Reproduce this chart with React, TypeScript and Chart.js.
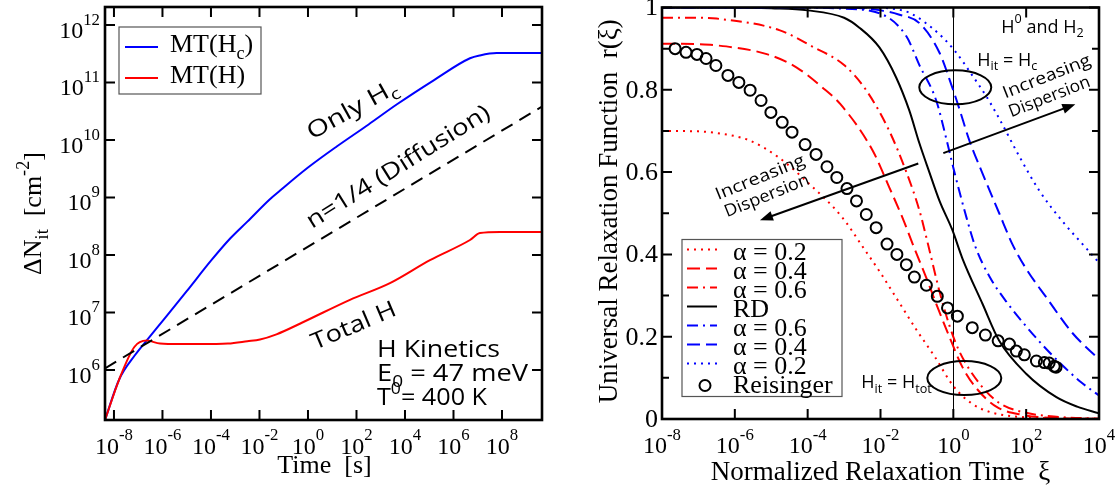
import { useEffect, useRef } from 'react';
import { Chart, registerables } from 'chart.js';

Chart.register(...registerables);

const SERIF = '"Liberation Serif", "Times New Roman", serif';
const SANS = '"Open Sans", "DejaVu Sans", sans-serif';
const BLUE = '#0000ff';
const RED = '#ff0000';
const DOT = [2, 5];
const DASH = [13, 6];
const DASHDOT = [11, 5, 2, 5];

// ---- H kinetics panel: time (s) vs. interface-trap density (cm^-2) ----
const hcTime = [4.27e-9, 1.62e-8, 7.41e-8, 2.29e-7, 1e-6, 1e-5, 1e-4, 6.31e-4, 3.16e-3, 2.69e-2, 7.08e-2, 1, 15.8, 316, 4.68e3, 1.58e5, 4.79e6, 1.23e7, 6.03e7, 4.47e9];
const hcDensity = [1.35e5, 6.76e5, 1.82e6, 3.31e6, 7.08e6, 2.34e7, 7.94e7, 1.95e8, 3.8e8, 9.33e8, 1.32e9, 3.31e9, 7.76e9, 1.86e10, 4.17e10, 1.1e11, 2.63e11, 2.95e11, 3.24e11, 3.24e11];
const hTime = [4.27e-9, 1.62e-8, 6.92e-8, 2.24e-7, 7.94e-7, 5.01e-6, 3.55e-5, 5.01e-4, 3.16e-3, 1.05e-2, 5.01e-2, 0.617, 53.7, 2.4e3, 1.07e5, 4.79e6, 1.23e7, 8.32e7, 4.47e9];
const hDensity = [1.35e5, 6.76e5, 2.51e6, 3.24e6, 2.88e6, 2.82e6, 2.82e6, 2.88e6, 3.16e6, 3.39e6, 4.17e6, 6.76e6, 1.66e7, 3.24e7, 8.13e7, 1.82e8, 2.4e8, 2.51e8, 2.51e8];
const diffusionTime = [4.27e-9, 4.47e9];
const diffusionDensity = [1.07e6, 3.8e10];

const timeTicks = [1e-8, 1e-6, 1e-4, 1e-2, 1, 1e2, 1e4, 1e6, 1e8];
const timeTickExp = ['-8', '-6', '-4', '-2', '0', '2', '4', '6', '8'];
const densityTicks = [1e6, 1e7, 1e8, 1e9, 1e10, 1e11, 1e12];
const densityTickExp = ['6', '7', '8', '9', '10', '11', '12'];

// ---- Universal relaxation panel: normalized time xi vs. r(xi) ----
const xiRedDot = [1e-8, 1e-7, 3.16e-7, 2.51e-6, 1.58e-5, 1e-4, 8.91e-4, 3.16e-3, 1e-2, 3.16e-2, 0.1, 0.316, 1, 3.16, 10, 31.6, 100, 1000, 1e4];
const rRedDot = [0.7, 0.699, 0.695, 0.677, 0.636, 0.575, 0.49, 0.42, 0.355, 0.285, 0.215, 0.15, 0.08, 0.038, 0.017, 0.008, 0.004, 0.001, 0.0002];
const xiRedDash = [1e-8, 1e-7, 2.51e-7, 7.94e-6, 5.01e-5, 2.51e-4, 7.94e-4, 6.03e-3, 1.74e-2, 3.98e-2, 8.51e-2, 0.178, 0.339, 0.776, 1.78, 4.27, 15.1, 79.4, 1000, 1e4];
const rRedDash = [0.912, 0.911, 0.909, 0.886, 0.854, 0.806, 0.765, 0.653, 0.563, 0.49, 0.415, 0.345, 0.28, 0.2, 0.126, 0.075, 0.03, 0.01, 0.002, 0.0005];
const xiRedDashDot = [1e-8, 1e-7, 3.16e-7, 1.66e-5, 1.35e-4, 1e-3, 3.98e-3, 1.74e-2, 5.13e-2, 0.117, 0.195, 0.417, 0.794, 1.45, 5.13, 18.2, 100, 794, 1e4];
const rRedDashDot = [0.975, 0.975, 0.973, 0.945, 0.905, 0.86, 0.8, 0.7, 0.6, 0.507, 0.43, 0.31, 0.225, 0.165, 0.087, 0.039, 0.015, 0.005, 0.001];
const xiRD = [1e-8, 1e-6, 1e-5, 1e-4, 1e-3, 2.63e-3, 9.33e-3, 2.69e-2, 6.17e-2, 0.117, 0.219, 0.417, 0.933, 1.78, 6.31, 18.2, 100, 676, 2512, 1e4];
const rRD = [1, 1, 0.998, 0.993, 0.975, 0.951, 0.903, 0.83, 0.75, 0.67, 0.6, 0.53, 0.46, 0.39, 0.28, 0.19, 0.11, 0.053, 0.03, 0.014];
const xiBlueDashDot = [1e-8, 1e-4, 1e-3, 1e-2, 5.13e-2, 0.117, 0.339, 0.646, 1.07, 2.29, 3.98, 10, 31.6, 100, 316, 1000, 3162, 1e4];
const rBlueDashDot = [1, 1, 0.997, 0.985, 0.93, 0.86, 0.774, 0.68, 0.6, 0.49, 0.42, 0.345, 0.28, 0.225, 0.175, 0.13, 0.09, 0.057];
const xiBlueDash = [1e-8, 1e-3, 1e-2, 3.16e-2, 0.117, 0.417, 0.933, 1.45, 2.75, 6.31, 18.2, 41.7, 100, 355, 1862, 1e4];
const rBlueDash = [1, 1, 0.993, 0.983, 0.962, 0.89, 0.806, 0.755, 0.677, 0.597, 0.5, 0.425, 0.365, 0.296, 0.209, 0.145];
const xiBlueDot = [1e-8, 3.16e-3, 3.98e-2, 0.263, 1.07, 3.31, 7.94, 18.2, 63.1, 229, 1000, 4467, 1e4];
const rBlueDot = [1, 1, 0.993, 0.95, 0.896, 0.835, 0.785, 0.73, 0.64, 0.555, 0.48, 0.415, 0.38];
const xiReisinger = [2.29e-8, 4.57e-8, 9.12e-8, 1.62e-7, 3.02e-7, 6.46e-7, 1.29e-6, 2.63e-6, 5.25e-6, 9.77e-6, 2e-5, 3.72e-5, 8.51e-5, 1.7e-4, 3.39e-4, 6.31e-4, 1.2e-3, 2.19e-3, 4.07e-3, 7.59e-3, 1.51e-2, 2.82e-2, 5.13e-2, 8.51e-2, 0.182, 0.363, 0.692, 1.29, 3.31, 7.59, 17, 34.7, 53.7, 89.1, 191, 316, 427, 589, 661];
const rReisinger = [0.9, 0.891, 0.886, 0.876, 0.859, 0.835, 0.818, 0.799, 0.774, 0.745, 0.721, 0.697, 0.667, 0.643, 0.613, 0.587, 0.56, 0.53, 0.497, 0.465, 0.425, 0.4, 0.375, 0.345, 0.325, 0.298, 0.27, 0.25, 0.222, 0.204, 0.19, 0.182, 0.165, 0.156, 0.141, 0.137, 0.136, 0.128, 0.126];

const xiTicks = [1e-8, 1e-6, 1e-4, 1e-2, 1, 1e2, 1e4];
const xiTickExp = ['-8', '-6', '-4', '-2', '0', '2', '4'];
const rMajorTicks = [0, 0.2, 0.4, 0.6, 0.8, 1];
const rTickLabels = ['0', '0.2', '0.4', '0.6', '0.8', '1'];
const rMinorTicks = [0.1, 0.3, 0.5, 0.7, 0.9];

type Seg = { t: string; k?: 'sup' | 'sub' };
type RichOpts = {
  size: number;
  family: string;
  align?: 'left' | 'center' | 'right';
  angle?: number;
  width?: number;
  supRaise?: number;
};

function segSize(size: number, k?: string) {
  return k ? size * 0.7 : size;
}

function measureRich(ctx: CanvasRenderingContext2D, segs: Seg[], size: number, family: string) {
  let w = 0;
  for (const s of segs) {
    ctx.font = `${segSize(size, s.k)}px ${family}`;
    w += ctx.measureText(s.t).width;
  }
  return w;
}

// Draws text with super/subscripts; optional rotation and horizontal fit to a width
function drawRich(ctx: CanvasRenderingContext2D, segs: Seg[], x: number, y: number, o: RichOpts) {
  ctx.save();
  ctx.translate(x, y);
  if (o.angle) ctx.rotate((o.angle * Math.PI) / 180);
  const w = measureRich(ctx, segs, o.size, o.family);
  if (o.width) ctx.scale(o.width / w, 1);
  let cx = o.align === 'center' ? -w / 2 : o.align === 'right' ? -w : 0;
  ctx.fillStyle = '#000';
  ctx.textAlign = 'left';
  ctx.textBaseline = 'alphabetic';
  for (const s of segs) {
    ctx.font = `${segSize(o.size, s.k)}px ${o.family}`;
    const dy = s.k === 'sup' ? -o.size * (o.supRaise ?? 0.45) : s.k === 'sub' ? o.size * 0.25 : 0;
    ctx.fillText(s.t, cx, dy);
    cx += ctx.measureText(s.t).width;
  }
  ctx.restore();
}

function drawArrow(ctx: CanvasRenderingContext2D, x1: number, y1: number, x2: number, y2: number) {
  const head = 13;
  const half = 5;
  const ang = Math.atan2(y2 - y1, x2 - x1);
  const c = Math.cos(ang);
  const s = Math.sin(ang);
  ctx.beginPath();
  ctx.moveTo(x1, y1);
  ctx.lineTo(x2 - c * head * 0.8, y2 - s * head * 0.8);
  ctx.stroke();
  ctx.beginPath();
  ctx.moveTo(x2, y2);
  ctx.lineTo(x2 - head * c + half * s, y2 - head * s - half * c);
  ctx.lineTo(x2 - head * c - half * s, y2 - head * s + half * c);
  ctx.closePath();
  ctx.fill();
}

function series(xs: number[], ys: number[], color: string, dash: number[], order: number, width = 2) {
  return {
    data: xs.map((x, i) => ({ x, y: ys[i] })),
    showLine: true,
    borderColor: color,
    backgroundColor: color,
    borderWidth: width,
    borderDash: dash,
    pointRadius: 0,
    pointHoverRadius: 0,
    cubicInterpolationMode: 'monotone' as const,
    fill: false,
    order,
  };
}

function powerLabel(exp: string): Seg[] {
  return [{ t: '10' }, { t: exp, k: 'sup' }];
}

const kineticsDecor = {
  id: 'kineticsDecor',
  afterDatasetsDraw(chart: any) {
    const { ctx, chartArea: a, scales } = chart;
    const xs = scales.x;
    const ys = scales.y;
    ctx.save();
    ctx.strokeStyle = '#000';
    ctx.lineWidth = 2;
    ctx.setLineDash([]);
    ctx.beginPath();
    timeTicks.forEach((v) => {
      const px = xs.getPixelForValue(v);
      ctx.moveTo(px, a.bottom);
      ctx.lineTo(px, a.bottom - 10);
      ctx.moveTo(px, a.top);
      ctx.lineTo(px, a.top + 10);
    });
    densityTicks.forEach((v) => {
      const py = ys.getPixelForValue(v);
      ctx.moveTo(a.left, py);
      ctx.lineTo(a.left + 10, py);
      ctx.moveTo(a.right, py);
      ctx.lineTo(a.right - 10, py);
    });
    ctx.stroke();
    ctx.lineWidth = 2.6;
    ctx.strokeRect(a.left, a.top, a.right - a.left, a.bottom - a.top);

    timeTicks.forEach((v, i) => {
      drawRich(ctx, powerLabel(timeTickExp[i]), xs.getPixelForValue(v), a.bottom + 33.5, {
        size: 24, family: SERIF, align: 'center', supRaise: 0.55,
      });
    });
    densityTicks.forEach((v, i) => {
      drawRich(ctx, powerLabel(densityTickExp[i]), a.left - 5, ys.getPixelForValue(v) + 13, {
        size: 24, family: SERIF, align: 'right', supRaise: 0.55,
      });
    });

    // axis titles
    drawRich(ctx, [{ t: 'Time  [s]' }], (a.left + a.right) / 2 + 1, 473, { size: 26, family: SERIF, align: 'center' });
    drawRich(ctx, [{ t: 'ΔN' }, { t: 'it', k: 'sub' }, { t: '  [cm' }, { t: '-2', k: 'sup' }, { t: ']' }], 41, (a.top + a.bottom) / 2, {
      size: 26, family: SERIF, align: 'center', angle: -90,
    });

    // legend
    const lx = a.left + 14;
    const ly = a.top + 20;
    ctx.fillStyle = '#fff';
    ctx.fillRect(lx, ly, 142, 67);
    ctx.strokeStyle = '#555';
    ctx.lineWidth = 1.2;
    ctx.strokeRect(lx, ly, 142, 67);
    ctx.lineWidth = 2;
    ctx.strokeStyle = BLUE;
    ctx.beginPath();
    ctx.moveTo(a.left + 20, a.top + 40);
    ctx.lineTo(a.left + 53, a.top + 40);
    ctx.stroke();
    ctx.strokeStyle = RED;
    ctx.beginPath();
    ctx.moveTo(a.left + 20, a.top + 71);
    ctx.lineTo(a.left + 53, a.top + 71);
    ctx.stroke();
    drawRich(ctx, [{ t: 'MT(H' }, { t: 'c', k: 'sub' }, { t: ')' }], a.left + 65, a.top + 45, { size: 26, family: SERIF });
    drawRich(ctx, [{ t: 'MT(H)' }], a.left + 65, a.top + 76, { size: 26, family: SERIF });

    // curve annotations
    drawRich(ctx, [{ t: 'Only H' }, { t: 'c', k: 'sub' }], xs.getPixelForValue(1.46), ys.getPixelForValue(1.0e10), {
      size: 23, family: SANS, angle: -29, width: 100,
    });
    drawRich(ctx, [{ t: 'n=1/4 (Diffusion)' }], xs.getPixelForValue(1.46), ys.getPixelForValue(2.83e8), {
      size: 23, family: SANS, angle: -32, width: 212,
    });
    drawRich(ctx, [{ t: 'Total H' }], xs.getPixelForValue(1.95), ys.getPixelForValue(2.23e6), {
      size: 23, family: SANS, angle: -23, width: 90,
    });
    const kx = xs.getPixelForValue(700);
    const ky = ys.getPixelForValue(1.68e6);
    drawRich(ctx, [{ t: 'H Kinetics' }], kx, ky, { size: 24, family: SANS, width: 123 });
    drawRich(ctx, [{ t: 'E' }, { t: '0', k: 'sub' }, { t: ' = 47 meV' }], kx, ky + 23.5, { size: 24, family: SANS, width: 151 });
    drawRich(ctx, [{ t: 'T' }, { t: '0', k: 'sup' }, { t: '= 400 K' }], kx, ky + 48, { size: 24, family: SANS, width: 110 });
    ctx.restore();
  },
};

type LegendEntry = { label: Seg[]; color: string; dash: number[] | null };
const relaxLegend: LegendEntry[] = [
  { label: [{ t: 'α = 0.2' }], color: RED, dash: DOT },
  { label: [{ t: 'α = 0.4' }], color: RED, dash: DASH },
  { label: [{ t: 'α = 0.6' }], color: RED, dash: DASHDOT },
  { label: [{ t: 'RD' }], color: '#000', dash: [] },
  { label: [{ t: 'α = 0.6' }], color: BLUE, dash: DASHDOT },
  { label: [{ t: 'α = 0.4' }], color: BLUE, dash: DASH },
  { label: [{ t: 'α = 0.2' }], color: BLUE, dash: DOT },
  { label: [{ t: 'Reisinger' }], color: '#000', dash: null },
];

const relaxDecor = {
  id: 'relaxDecor',
  beforeDatasetsDraw(chart: any) {
    const { ctx, chartArea: a, scales } = chart;
    const px = scales.x.getPixelForValue(1);
    ctx.save();
    ctx.strokeStyle = '#000';
    ctx.lineWidth = 1;
    ctx.beginPath();
    ctx.moveTo(Math.round(px) + 0.5, a.top);
    ctx.lineTo(Math.round(px) + 0.5, a.bottom);
    ctx.stroke();
    ctx.restore();
  },
  afterDatasetsDraw(chart: any) {
    const { ctx, chartArea: a, scales } = chart;
    const xs = scales.x;
    const ys = scales.y;
    ctx.save();
    ctx.strokeStyle = '#000';
    ctx.fillStyle = '#000';
    ctx.setLineDash([]);
    ctx.lineWidth = 2;
    ctx.beginPath();
    xiTicks.forEach((v) => {
      const px = xs.getPixelForValue(v);
      ctx.moveTo(px, a.bottom);
      ctx.lineTo(px, a.bottom - 10);
      ctx.moveTo(px, a.top);
      ctx.lineTo(px, a.top + 10);
    });
    rMajorTicks.forEach((v) => {
      const py = ys.getPixelForValue(v);
      ctx.moveTo(a.left, py);
      ctx.lineTo(a.left + 10, py);
      ctx.moveTo(a.right, py);
      ctx.lineTo(a.right - 10, py);
    });
    rMinorTicks.forEach((v) => {
      const py = ys.getPixelForValue(v);
      ctx.moveTo(a.left, py);
      ctx.lineTo(a.left + 7, py);
      ctx.moveTo(a.right, py);
      ctx.lineTo(a.right - 7, py);
    });
    ctx.stroke();
    ctx.lineWidth = 2.6;
    ctx.strokeRect(a.left, a.top, a.right - a.left, a.bottom - a.top);

    xiTicks.forEach((v, i) => {
      drawRich(ctx, powerLabel(xiTickExp[i]), xs.getPixelForValue(v), a.bottom + 34, {
        size: 24, family: SERIF, align: 'center', supRaise: 0.55,
      });
    });
    ctx.font = `26px ${SERIF}`;
    ctx.textAlign = 'right';
    ctx.textBaseline = 'middle';
    rMajorTicks.forEach((v, i) => {
      ctx.fillText(rTickLabels[i], a.left - 4, ys.getPixelForValue(v) + 1);
    });

    drawRich(ctx, [{ t: 'Normalized Relaxation Time  ξ' }], (a.left + a.right) / 2, 480, { size: 27, family: SERIF, align: 'center' });
    drawRich(ctx, [{ t: 'Universal Relaxation Function  r(ξ)' }], 57, (a.top + a.bottom) / 2 - 2, {
      size: 27, family: SERIF, align: 'center', angle: -90,
    });

    // legend
    const bx = a.left + 20;
    const by = a.top + 232;
    ctx.fillStyle = '#fff';
    ctx.fillRect(bx, by, 160, 157);
    ctx.strokeStyle = '#555';
    ctx.lineWidth = 1.2;
    ctx.strokeRect(bx, by, 160, 157);
    relaxLegend.forEach((e, i) => {
      const base = a.top + 252 + i * 19;
      if (e.dash) {
        ctx.strokeStyle = e.color;
        ctx.lineWidth = 2;
        ctx.setLineDash(e.dash);
        ctx.beginPath();
        ctx.moveTo(a.left + 25, base - 10);
        ctx.lineTo(a.left + 55, base - 10);
        ctx.stroke();
        ctx.setLineDash([]);
      } else {
        ctx.strokeStyle = '#000';
        ctx.lineWidth = 2;
        ctx.beginPath();
        ctx.arc(a.left + 43, base - 7, 5.5, 0, Math.PI * 2);
        ctx.stroke();
      }
      drawRich(ctx, e.label, a.left + 71, base, { size: 26, family: SERIF });
    });

    // annotations
    ctx.strokeStyle = '#000';
    ctx.fillStyle = '#000';
    ctx.lineWidth = 2;
    drawRich(ctx, [{ t: 'H' }, { t: '0', k: 'sup' }, { t: ' and H' }, { t: '2', k: 'sub' }], xs.getPixelForValue(20.8), ys.getPixelForValue(0.939), {
      size: 18, family: SANS, supRaise: 0.55,
    });
    drawRich(ctx, [{ t: 'H' }, { t: 'it', k: 'sub' }, { t: ' = H' }, { t: 'c', k: 'sub' }], xs.getPixelForValue(4.56), ys.getPixelForValue(0.859), {
      size: 18, family: SANS,
    });
    drawRich(ctx, [{ t: 'H' }, { t: 'it', k: 'sub' }, { t: ' = H' }, { t: 'tot', k: 'sub' }], xs.getPixelForValue(2.98e-3), ys.getPixelForValue(0.075), {
      size: 18, family: SANS,
    });
    ctx.beginPath();
    ctx.ellipse(xs.getPixelForValue(1.13), ys.getPixelForValue(0.806), 36, 17, 0, 0, Math.PI * 2);
    ctx.stroke();
    ctx.beginPath();
    ctx.ellipse(xs.getPixelForValue(2.0), ys.getPixelForValue(0.0995), 37, 17, 0, 0, Math.PI * 2);
    ctx.stroke();

    drawArrow(ctx, xs.getPixelForValue(0.531), ys.getPixelForValue(0.646), xs.getPixelForValue(2239), ys.getPixelForValue(0.765));
    drawArrow(ctx, xs.getPixelForValue(0.109), ys.getPixelForValue(0.621), xs.getPixelForValue(4.9e-6), ys.getPixelForValue(0.483));

    drawRich(ctx, [{ t: 'Increasing' }], xs.getPixelForValue(26.8), ys.getPixelForValue(0.779), { size: 17, family: SANS, angle: -21.5, width: 93 });
    drawRich(ctx, [{ t: 'Dispersion' }], xs.getPixelForValue(39.1), ys.getPixelForValue(0.733), { size: 17, family: SANS, angle: -21.5, width: 86 });
    drawRich(ctx, [{ t: 'Increasing' }], xs.getPixelForValue(3.45e-7), ys.getPixelForValue(0.532), { size: 17, family: SANS, angle: -22, width: 95 });
    drawRich(ctx, [{ t: 'Dispersion' }], xs.getPixelForValue(6.1e-7), ys.getPixelForValue(0.49), { size: 17, family: SANS, angle: -22, width: 90 });
    ctx.restore();
  },
};

function kineticsConfig(): any {
  return {
    type: 'scatter',
    data: {
      datasets: [
        series(hcTime, hcDensity, BLUE, [], 2),
        series(hTime, hDensity, RED, [], 1),
        { ...series(diffusionTime, diffusionDensity, '#000', [13, 8], 0), cubicInterpolationMode: 'default', tension: 0 },
      ],
    },
    options: {
      animation: false,
      responsive: false,
      maintainAspectRatio: false,
      events: [],
      layout: { padding: { left: 105, top: 7, right: 18, bottom: 71 } },
      plugins: { legend: { display: false }, tooltip: { enabled: false } },
      scales: {
        x: { type: 'logarithmic', min: 4.27e-9, max: 4.46e9, display: false, bounds: 'data' },
        y: { type: 'logarithmic', min: 1.35e5, max: 2.05e12, display: false, bounds: 'data' },
      },
    },
    plugins: [kineticsDecor],
  };
}

function relaxConfig(): any {
  return {
    type: 'scatter',
    data: {
      datasets: [
        series(xiRedDot, rRedDot, RED, DOT, 7),
        series(xiRedDash, rRedDash, RED, DASH, 6),
        series(xiRedDashDot, rRedDashDot, RED, DASHDOT, 5),
        series(xiRD, rRD, '#000', [], 4),
        series(xiBlueDashDot, rBlueDashDot, BLUE, DASHDOT, 3),
        series(xiBlueDash, rBlueDash, BLUE, DASH, 2),
        series(xiBlueDot, rBlueDot, BLUE, DOT, 1),
        {
          data: xiReisinger.map((x, i) => ({ x, y: rReisinger[i] })),
          showLine: false,
          pointStyle: 'circle',
          pointRadius: 5.5,
          pointHoverRadius: 5.5,
          borderWidth: 2,
          borderColor: '#000',
          backgroundColor: 'rgba(0,0,0,0)',
          order: 0,
        },
      ],
    },
    options: {
      animation: false,
      responsive: false,
      maintainAspectRatio: false,
      events: [],
      layout: { padding: { left: 102, top: 7, right: 19, bottom: 72 } },
      plugins: { legend: { display: false }, tooltip: { enabled: false } },
      scales: {
        x: { type: 'logarithmic', min: 1e-8, max: 1e4, display: false, bounds: 'data' },
        y: { type: 'linear', min: 0, max: 1, display: false, bounds: 'data' },
      },
    },
    plugins: [relaxDecor],
  };
}

export default function App() {
  const leftRef = useRef<HTMLCanvasElement>(null);
  const rightRef = useRef<HTMLCanvasElement>(null);

  useEffect(() => {
    const left = new Chart(leftRef.current!, kineticsConfig());
    const right = new Chart(rightRef.current!, relaxConfig());
    return () => {
      left.destroy();
      right.destroy();
    };
  }, []);

  return (
    <div style={{ position: 'fixed', left: 0, top: 0, width: 1118, height: 491, background: '#fff' }}>
      <canvas ref={leftRef} width={560} height={491} style={{ position: 'absolute', left: 0, top: 0, width: 560, height: 491 }} />
      <canvas ref={rightRef} width={558} height={491} style={{ position: 'absolute', left: 560, top: 0, width: 558, height: 491 }} />
    </div>
  );
}
